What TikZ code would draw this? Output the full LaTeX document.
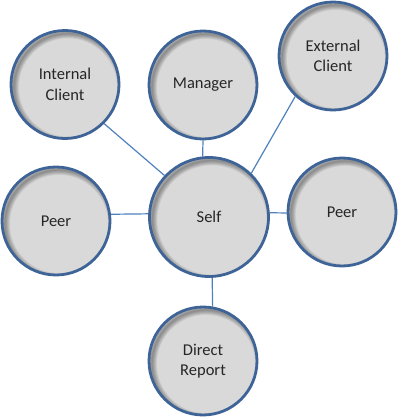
\documentclass[tikz,border=0pt]{standalone}
\usepackage{fontspec}
\setmainfont{Carlito}
\usetikzlibrary{backgrounds}
\definecolor{rim}{HTML}{3E6497}
\definecolor{conn}{HTML}{4F81BD}
\definecolor{bubfill}{HTML}{D9D9D9}
\definecolor{txt}{HTML}{262626}
\tikzset{
  bub/.style={circle, draw=rim, line width=2.8pt, fill=bubfill, minimum size=2*#1 pt,
    inner sep=0pt, text=txt, align=center,
    font=\fontsize{16.5}{20.5}\selectfont,
    path picture={
      \foreach \i in {1,...,9}{
        \draw[black, opacity=0.045, line width=\i*1.1pt]
          ([shift={(3pt,-3pt)}]path picture bounding box.center) circle (#1 pt);
      }
    }},
  link/.style={draw=conn, line width=1.2pt}
}
\begin{document}
\begin{tikzpicture}[x=1pt,y=-1pt]
\useasboundingbox (0,0) rectangle (400,418);
\node[bub=54]   (int)   at (65,84.5)  {Internal\\Client};
\node[bub=54]   (man)   at (203,85)   {Manager};
\node[bub=54]   (ext)   at (333,56)   {External\\Client};
\node[bub=59.5] (self)  at (209,217)  {Self};
\node[bub=54]   (peerL) at (56,221)   {Peer};
\node[bub=54]   (peerR) at (342,212)  {Peer};
\node[bub=54]   (dr)    at (203,361)  {Direct\\Report};
\begin{scope}[on background layer]
\draw[link] (int.315) -- (self.137);
\draw[link] (man.270) -- (self.96);
\draw[link] (ext.227) -- (self.46);
\draw[link] (peerL.7) -- (self.177);
\draw[link] (self.4) -- (peerR.181);
\draw[link] (self.273) -- (dr.80);
\end{scope}
\end{tikzpicture}
\end{document}
